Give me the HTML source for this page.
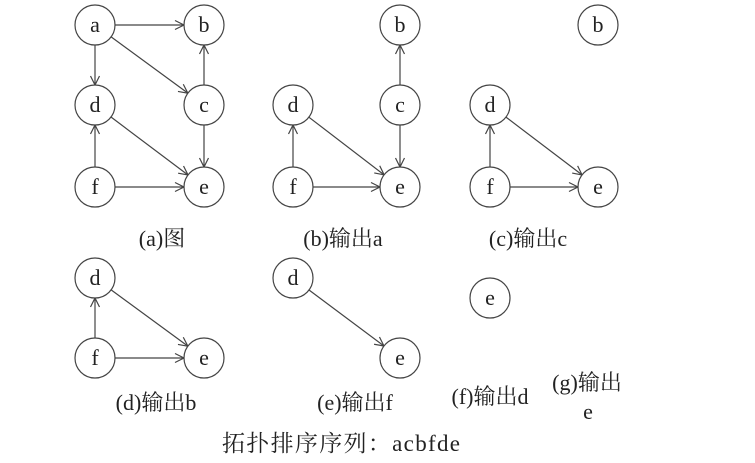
<!DOCTYPE html>
<html><head><meta charset="utf-8"><style>
html,body{margin:0;padding:0;background:#fff;}
svg{display:block;}
text{font-family:"Liberation Serif","Noto Serif CJK SC",serif;fill:#222;}
</style></head><body>
<svg id="s" width="755" height="463" viewBox="0 0 755 463" xmlns="http://www.w3.org/2000/svg">
<text x="162" y="246" font-size="22" text-anchor="middle">(a)图</text>
<text x="343" y="246" font-size="22" text-anchor="middle">(b)输出a</text>
<text x="528" y="246" font-size="22" text-anchor="middle">(c)输出c</text>
<text x="156" y="410" font-size="22" text-anchor="middle">(d)输出b</text>
<text x="355" y="410" font-size="22" text-anchor="middle">(e)输出f</text>
<text x="490" y="404" font-size="22" text-anchor="middle">(f)输出d</text>
<text x="587" y="390" font-size="22" text-anchor="middle">(g)输出</text>
<text x="588" y="419" font-size="22" text-anchor="middle">e</text>
<text x="222" y="451" font-size="23" textLength="238" lengthAdjust="spacing">拓扑排序序列：acbfde</text>
</svg>
<script>
var s=document.getElementById('s'),NS='http://www.w3.org/2000/svg',R=20;
function el(t,a){var e=document.createElementNS(NS,t);for(var k in a)e.setAttribute(k,a[k]);s.appendChild(e);return e;}
function node(x,y,l){el('circle',{cx:x,cy:y,r:R,fill:'#fff',stroke:'#444','stroke-width':1.2});var t=el('text',{x:x,y:y+7,'font-size':22,'text-anchor':'middle'});t.textContent=l;}
function arr(x1,y1,x2,y2){var dx=x2-x1,dy=y2-y1,L=Math.hypot(dx,dy),ux=dx/L,uy=dy/L;
var sx=x1+ux*R,sy=y1+uy*R,ex=x2-ux*R,ey=y2-uy*R;
el('line',{x1:sx,y1:sy,x2:ex,y2:ey,stroke:'#444','stroke-width':1.2});
var a=9,w=4.5;el('polyline',{points:(ex-ux*a-uy*w)+','+(ey-uy*a+ux*w)+' '+ex+','+ey+' '+(ex-ux*a+uy*w)+','+(ey-uy*a-ux*w),fill:'none',stroke:'#444','stroke-width':1.2});}
function g(nodes,edges){edges.forEach(function(e){var p=nodes[e[0]],q=nodes[e[1]];arr(p[0],p[1],q[0],q[1]);});for(var k in nodes)node(nodes[k][0],nodes[k][1],k);}
g({a:[95,25],b:[204,25],d:[95,105],c:[204,105],f:[95,187],e:[204,187]},[['a','b'],['a','d'],['a','c'],['c','b'],['c','e'],['d','e'],['f','d'],['f','e']]);
g({b:[400,25],d:[293,105],c:[400,105],f:[293,187],e:[400,187]},[['c','b'],['c','e'],['d','e'],['f','d'],['f','e']]);
g({b:[598,25],d:[490,105],f:[490,187],e:[598,187]},[['d','e'],['f','d'],['f','e']]);
g({d:[95,278],f:[95,358],e:[204,358]},[['d','e'],['f','d'],['f','e']]);
g({d:[293,278],e:[400,358]},[['d','e']]);
g({e:[490,298]},[]);
</script>
</body></html>
